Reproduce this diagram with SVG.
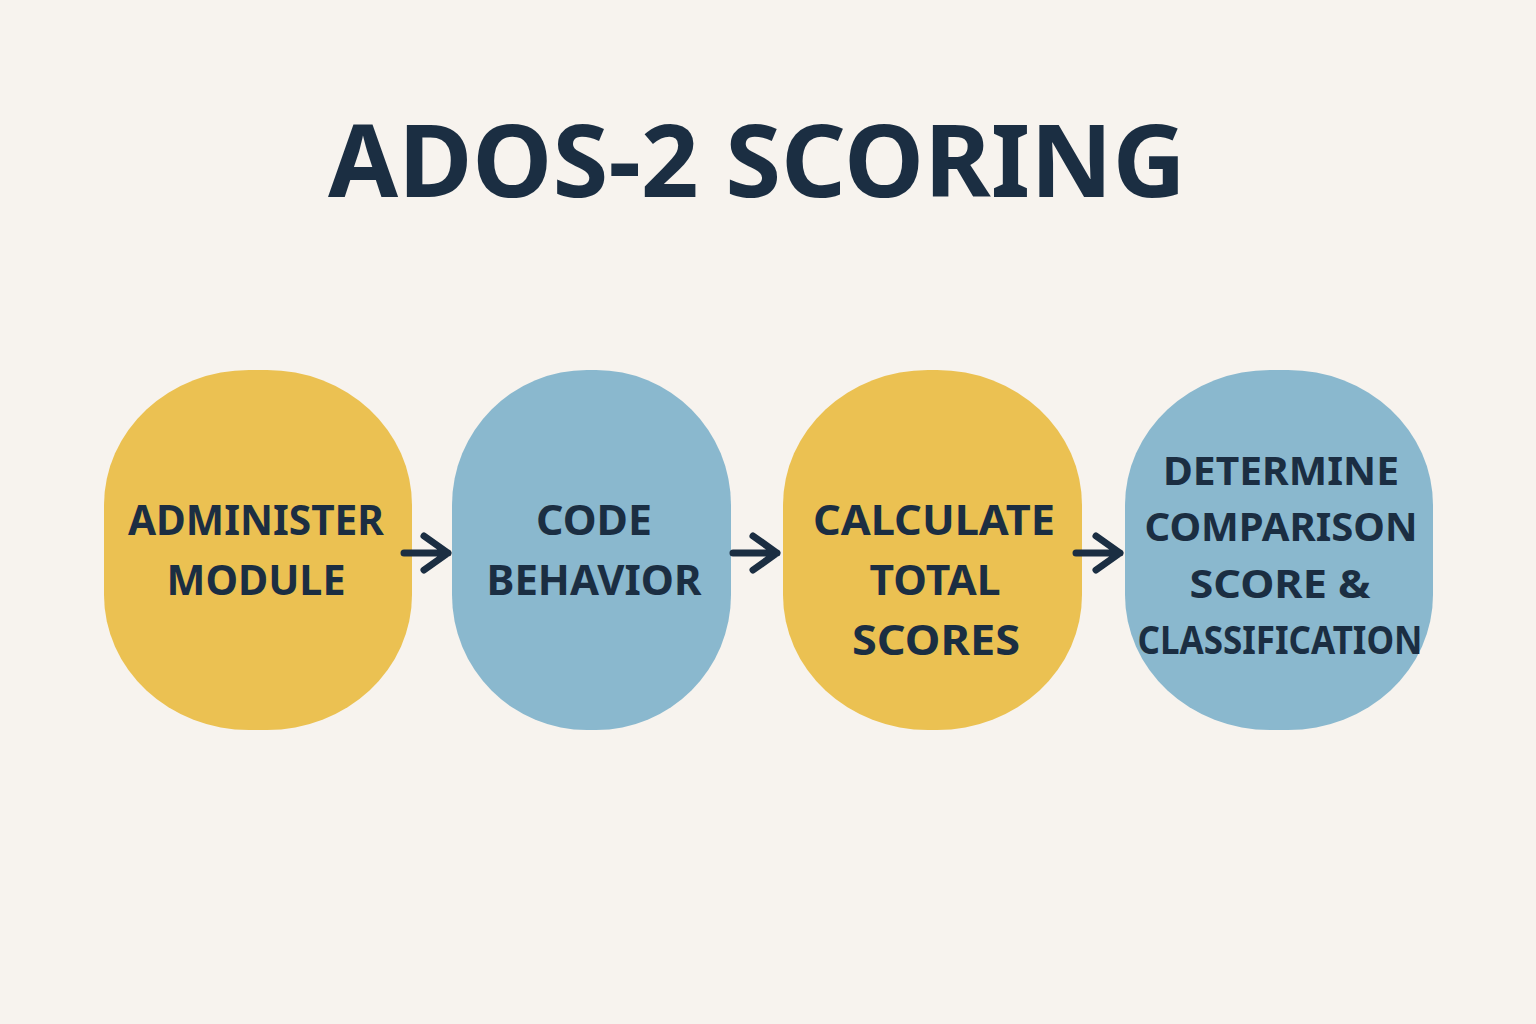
<svg xmlns="http://www.w3.org/2000/svg" width="1536" height="1024" viewBox="0 0 1536 1024">
<defs>
<style>
.bg{fill:#F7F3EE}
.y{fill:#EBC152}
.b{fill:#8AB8CE}
.t{font-family:"Noto Sans","Liberation Sans",sans-serif;font-weight:700;fill:#1B2E42;text-anchor:middle}
.lbl{font-size:42px}
.lbl4{font-size:40px}
.title{font-size:100px}
.arr{fill:none;stroke:#1B2E42;stroke-width:7;stroke-linecap:round;stroke-linejoin:round}
</style>
</defs>
<rect class="bg" x="0" y="0" width="1536" height="1024"/>
<text class="t title" x="757" y="197" textLength="858" lengthAdjust="spacingAndGlyphs">ADOS-2 SCORING</text>
<g id="node1">
<rect class="y" x="104" y="370" width="308" height="360" rx="145" ry="135"/>
<text class="t lbl" x="256" y="535" textLength="256" lengthAdjust="spacingAndGlyphs">ADMINISTER</text>
<text class="t lbl" x="256" y="595" textLength="179" lengthAdjust="spacingAndGlyphs">MODULE</text>
</g>
<g id="node2">
<rect class="b" x="452" y="370" width="279" height="360" rx="135" ry="135"/>
<text class="t lbl" x="594" y="535" textLength="116" lengthAdjust="spacingAndGlyphs">CODE</text>
<text class="t lbl" x="594" y="595" textLength="215" lengthAdjust="spacingAndGlyphs">BEHAVIOR</text>
</g>
<g id="node3">
<rect class="y" x="783" y="370" width="299" height="360" rx="145" ry="135"/>
<text class="t lbl" x="934" y="535" textLength="242" lengthAdjust="spacingAndGlyphs">CALCULATE</text>
<text class="t lbl" x="935" y="595" textLength="131" lengthAdjust="spacingAndGlyphs">TOTAL</text>
<text class="t lbl" x="936" y="655" textLength="168" lengthAdjust="spacingAndGlyphs">SCORES</text>
</g>
<g id="node4">
<rect class="b" x="1125" y="370" width="308" height="360" rx="145" ry="135"/>
<text class="t lbl4" x="1281" y="485" textLength="236" lengthAdjust="spacingAndGlyphs">DETERMINE</text>
<text class="t lbl4" x="1281" y="541" textLength="273" lengthAdjust="spacingAndGlyphs">COMPARISON</text>
<text class="t lbl4" x="1280" y="598" textLength="181" lengthAdjust="spacingAndGlyphs">SCORE &amp;</text>
<text class="t lbl4" x="1280" y="654" textLength="285" lengthAdjust="spacingAndGlyphs">CLASSIFICATION</text>
</g>
<g id="connectors">
<path class="arr" d="M404 553 H448 M424 536 L448 553 L424 570"/>
<path class="arr" d="M733 553 H777 M753 536 L777 553 L753 570"/>
<path class="arr" d="M1076 553 H1120 M1096 536 L1120 553 L1096 570"/>
</g>
</svg>
